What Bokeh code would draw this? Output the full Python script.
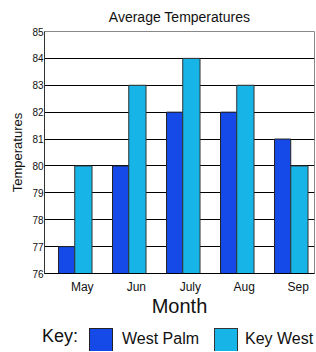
from bokeh.plotting import figure
from bokeh.layouts import column
from bokeh.models import Range1d, FixedTicker, ColumnDataSource, Div
from bokeh.embed import file_html
from bokeh.resources import INLINE

months = ["May", "Jun", "July", "Aug", "Sep"]
west_palm = [77, 80, 82, 82, 81]
key_west = [80, 83, 84, 83, 80]
y_ticks = [76, 77, 78, 79, 80, 81, 82, 83, 84, 85]
series_names = ["West Palm", "Key West"]

FONT = "Liberation Sans"
WP_COLOR = "#1549E8"
KW_COLOR = "#16B4E7"
TXT = "#111111"

idx = list(range(len(months)))
src = ColumnDataSource(dict(
    x_wp=[i - 0.29 for i in idx],
    x_kw=[i + 0.02 for i in idx],
    wp=west_palm,
    kw=key_west,
))

p = figure(width=315, height=320, x_range=Range1d(-0.7, 4.3), y_range=Range1d(76, 85),
           output_backend="svg", toolbar_location=None,
           min_border_left=44, min_border_right=1, min_border_top=30, min_border_bottom=47)

p.title.text = "Average Temperatures"
p.title.align = "center"
p.title.text_font = FONT
p.title.text_font_size = "14px"
p.title.text_font_style = "normal"
p.title.text_color = TXT
p.title.standoff = 13

p.outline_line_color = "#888888"
p.background_fill_color = "white"
p.border_fill_color = "white"

p.xgrid.grid_line_color = None
p.ygrid.ticker = FixedTicker(ticks=y_ticks)
p.ygrid.grid_line_color = "black"
p.ygrid.grid_line_width = 1

p.vbar(x="x_wp", top="wp", bottom=76, width=0.3, source=src,
       fill_color=WP_COLOR, line_color="#222222", line_width=1)
p.vbar(x="x_kw", top="kw", bottom=76, width=0.32, source=src,
       fill_color=KW_COLOR, line_color="#333333", line_width=1)

xa = p.xaxis[0]
xa.ticker = FixedTicker(ticks=idx)
xa.major_label_overrides = {i: m for i, m in zip(idx, months)}
xa.major_tick_out = 0
xa.major_tick_in = 0
xa.minor_tick_out = 0
xa.minor_tick_in = 0
xa.axis_line_color = "black"
xa.major_label_text_font = FONT
xa.major_label_text_font_size = "12px"
xa.major_label_text_color = TXT
xa.major_label_standoff = 6
xa.axis_label = "Month"
xa.axis_label_text_font = FONT
xa.axis_label_text_font_size = "20px"
xa.axis_label_text_font_style = "normal"
xa.axis_label_text_color = TXT
xa.axis_label_standoff = -2

ya = p.yaxis[0]
ya.ticker = FixedTicker(ticks=y_ticks)
ya.major_tick_out = 0
ya.major_tick_in = 0
ya.minor_tick_out = 0
ya.minor_tick_in = 0
ya.axis_line_color = "#333333"
ya.major_label_text_font = FONT
ya.major_label_text_font_size = "10px"
ya.major_label_text_color = TXT
ya.major_label_standoff = 1
ya.axis_label = "Temperatures"
ya.axis_label_text_font = FONT
ya.axis_label_text_font_size = "13px"
ya.axis_label_text_font_style = "normal"
ya.axis_label_text_color = TXT
ya.axis_label_standoff = 4

# Key (legend) strip
def swatch(left, color, border):
    return (f'<span style="position:absolute;left:{left}px;top:8px;width:24px;height:24px;'
            f'background:{color};border:1px solid {border};"></span>')

def text(left, top, size, s):
    return (f'<span style="position:absolute;left:{left}px;top:{top}px;font-family:\'{FONT}\';'
            f'font-size:{size}px;line-height:1;color:{TXT};white-space:nowrap;">{s}</span>')

html = (
    '<div style="position:relative;width:315px;height:31px;overflow:hidden;background:white;">'
    + text(42, 7, 18, "Key:")
    + swatch(89, WP_COLOR, "#222222")
    + text(122, 11, 16, series_names[0])
    + swatch(214, KW_COLOR, "#333333")
    + text(245, 11, 16, series_names[1])
    + '</div>'
)
key = Div(text=html, width=315, height=31, margin=0,
          styles={"margin": "0", "padding": "0"})

layout = column(p, key, spacing=0)
open("out.html", "w").write(file_html(layout, INLINE))
